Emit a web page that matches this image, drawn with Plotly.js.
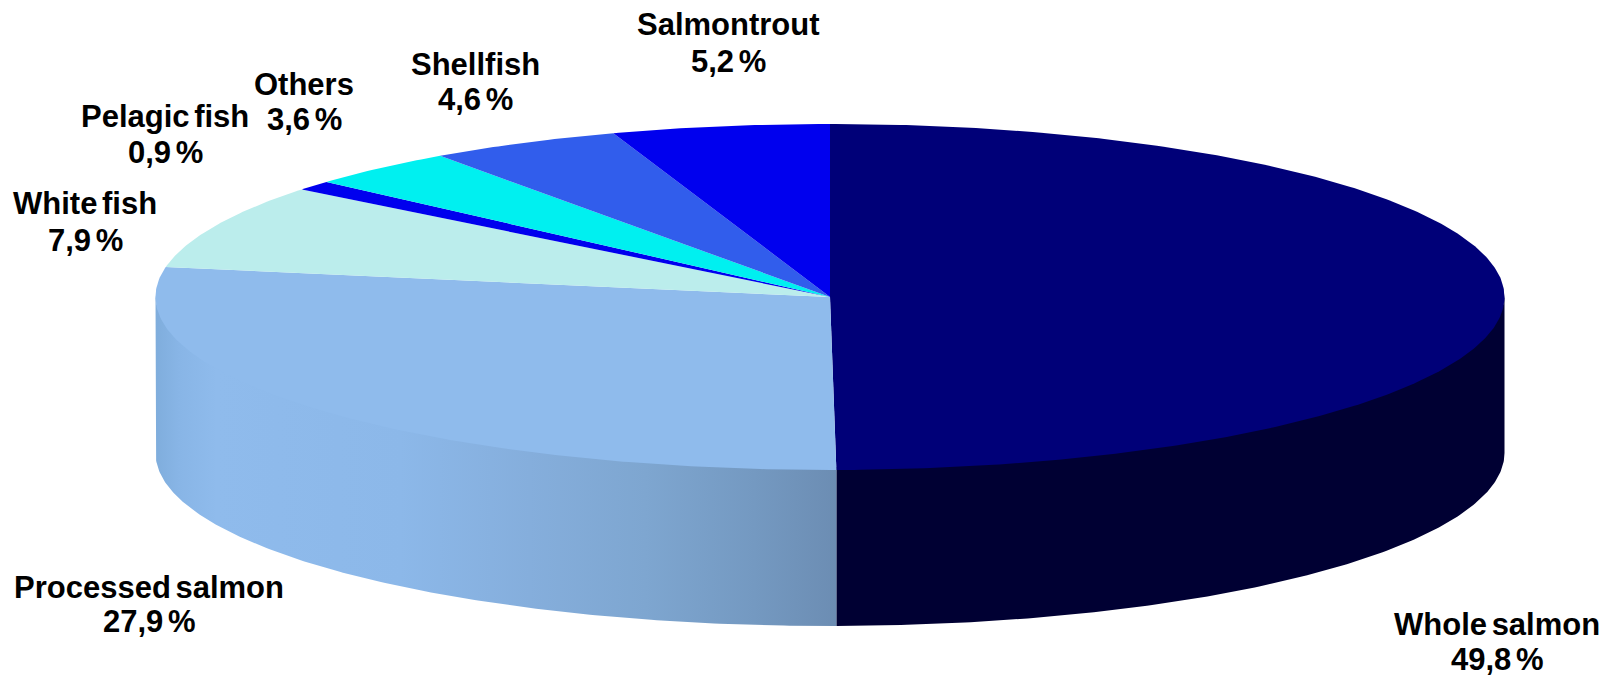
<!DOCTYPE html>
<html>
<head>
<meta charset="utf-8">
<script src="https://cdn.plot.ly/plotly-3.0.1.min.js"></script>
<style>html,body{margin:0;padding:0;background:#fff;overflow:hidden}#chart{width:1613px;height:676px}</style>
</head>
<body>
<div id="chart"></div>
<script>
// Sales by product group, in per cent, clockwise from twelve o'clock
const categories = ['Whole salmon', 'Processed salmon', 'White fish', 'Pelagic fish', 'Others', 'Shellfish', 'Salmontrout'];
const shares = [49.8, 27.9, 7.9, 0.9, 3.6, 4.6, 5.2];

// Slice colours: top face, and wall face where the wall can be seen
const topColors = ['#000078', '#8FBBEC', '#BBEDEC', '#0000EE', '#00F0F0', '#315DEC', '#0000EE'];
const wallColor = '#000033';

// Label centres on the paper, one pair per category
const labelX = [1497, 149, 85, 165, 304, 475, 728];
const nameY = [624, 587, 203, 116, 84, 64, 24];
const shareY = [659, 621, 240, 152, 119, 99, 61];

// Disc geometry in the pixel-sized axis space
const cx = 830, cy = 297, rx = 674.5, ry = 173, depth = 156;

const rad = d => d * Math.PI / 180;
const ex = d => cx + rx * Math.sin(rad(d));
const ey = (d, drop) => cy - ry * Math.cos(rad(d)) + drop;

function arc(from, to, drop) {
  const n = Math.max(2, Math.ceil(Math.abs(to - from) * 2));
  const xs = [], ys = [];
  for (let i = 0; i <= n; i++) {
    const d = from + (to - from) * i / n;
    xs.push(ex(d));
    ys.push(ey(d, drop));
  }
  return [xs, ys];
}

// The upper edge runs slightly under the top face so no seam shows along it
function wall(from, to) {
  const [tx, ty] = arc(from, to, -3);
  const [bx, by] = arc(to, from, depth);
  return { x: tx.concat(bx, tx[0]), y: ty.concat(by, ty[0]) };
}

const traces = [];
// The rounded shares add up to 99.9, so the sweep is scaled by their sum
const total = shares.reduce((a, b) => a + b, 0);
let run = 0;
const spans = shares.map(v => {
  const s = [run / total * 360, (run + v) / total * 360];
  run += v;
  return s;
});

// Side walls go down first so the top faces overlap their upper edge
const base = { type: 'scatter', mode: 'lines', fill: 'toself', line: { width: 0 }, showlegend: false, hoverinfo: 'skip' };
traces.push(Object.assign({}, base, wall(90, spans[0][1]), { fillcolor: wallColor }));
traces.push(Object.assign({}, base, wall(spans[1][0], 270), {
  fillgradient: {
    type: 'horizontal',
    start: 155, stop: 836,
    colorscale: [
      [0, '#7FADDC'], [0.035, '#88B5E6'], [0.09, '#8FBBEC'], [0.36, '#8CB8E9'],
      [0.55, '#85AEDC'], [0.72, '#7EA6D0'], [0.88, '#7499C1'], [1, '#6C8DB3']
    ]
  }
}));

// Top faces as wedges from the disc centre
categories.forEach((name, i) => {
  const [ax, ay] = arc(spans[i][0], spans[i][1], 0);
  traces.push(Object.assign({}, base, {
    x: [cx].concat(ax, cx),
    y: [cy].concat(ay, cy),
    fillcolor: topColors[i],
    hoverinfo: 'text',
    text: name + ': ' + shares[i].toFixed(1).replace('.', ',') + ' %'
  }));
});

const labelFont = { family: '"Liberation Sans", Arial, sans-serif', size: 31, color: '#000', weight: 700 };
const note = (x, y, text) => ({ x, y, text, xref: 'x', yref: 'y', showarrow: false, xanchor: 'center', yanchor: 'middle', font: labelFont });
// Word gaps are set tighter than the font's own space
const tight = s => s.split(' ').join('<span style="letter-spacing:-4px"> </span>');
const annotations = [];
categories.forEach((name, i) => {
  annotations.push(note(labelX[i], nameY[i], '<b>' + tight(name) + '</b>'));
  annotations.push(note(labelX[i], shareY[i], '<b>' + tight(shares[i].toFixed(1).replace('.', ',') + ' %') + '</b>'));
});

const hidden = { visible: false, fixedrange: true };
Plotly.newPlot('chart', traces, {
  width: 1613,
  height: 676,
  margin: { l: 0, r: 0, t: 0, b: 0 },
  paper_bgcolor: '#fff',
  plot_bgcolor: '#fff',
  showlegend: false,
  xaxis: Object.assign({ range: [0, 1613] }, hidden),
  yaxis: Object.assign({ range: [676, 0] }, hidden),
  annotations
}, { displayModeBar: false });
</script>
</body>
</html>
